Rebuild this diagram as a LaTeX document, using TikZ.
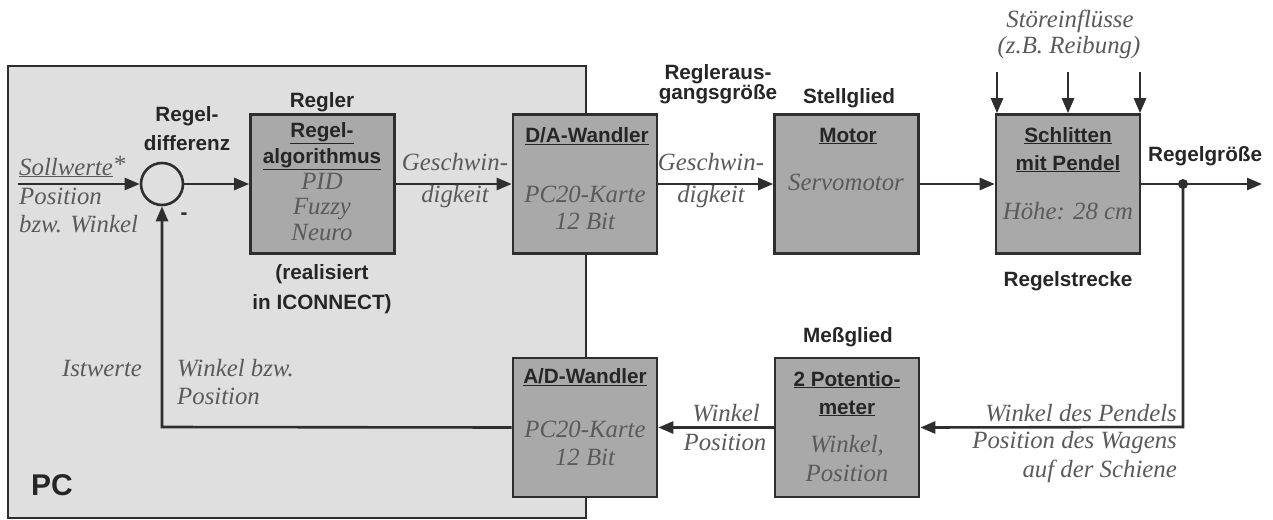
\documentclass[tikz,border=0pt]{standalone}
\usepackage{fontspec}
\setmainfont{Liberation Serif}
\setsansfont{Liberation Sans}
\usetikzlibrary{arrows.meta}
\definecolor{pcgray}{HTML}{DFDFDF}
\definecolor{boxgray}{HTML}{A9A9A9}
\definecolor{edge}{HTML}{2E2E2E}
\definecolor{ital}{HTML}{5A5A5A}
\begin{document}
\begin{tikzpicture}[x=1pt,y=-1pt,
  blk/.style={draw=edge, line width=2.6pt, fill=boxgray, minimum width=144pt, minimum height=139pt, inner sep=0pt},
  sumnode/.style={circle, draw=edge, line width=2.6pt, minimum size=42pt, inner sep=0pt},
  sf/.style={font=\sffamily\bfseries\fontsize{20.7}{22}\selectfont, text=black!85, inner sep=0pt, anchor=base},
  it/.style={font=\itshape\fontsize{24.8}{26}\selectfont, text=ital, inner sep=0pt, anchor=base},
  conn/.style={draw=edge, line width=2.6pt},
  arr/.style={conn, -{Triangle[length=15pt,width=12pt]}},
  dot/.style={circle, fill=edge, minimum size=10pt, inner sep=0pt}
]
\useasboundingbox (0,0) rectangle (1273,519);
% PC area
\node[draw=edge, line width=2.2pt, fill=pcgray, minimum width=578pt, minimum height=452pt, inner sep=0pt, anchor=north west] (pc) at (7,65) {};
\node[sf, font=\sffamily\bfseries\fontsize{30}{32}\selectfont] (pclbl) at (52,495) {PC};

% blocks
\node[sumnode] (sum) at (162,184) {};
\node[blk] (reg) at (322.5,184) {};
\node[blk] (da) at (585,184) {};
\node[blk] (mot) at (846.5,184) {};
\node[blk] (sch) at (1068,184) {};
\node[blk] (ad) at (585,427.5) {};
\node[blk] (mes) at (847,427.5) {};

% coordinates
\coordinate (in) at (18,184);
\coordinate (br) at (1183,184);
\coordinate (out) at (1262,184);
\coordinate (brd) at (1183,427);
\coordinate (fbc) at (162,427);
\coordinate (d1) at (997,72);
\coordinate (d2) at (1068,72);
\coordinate (d3) at (1140,72);

% connectors
\draw[arr] (in) -- (sum.west);
\draw[arr] (sum.east) -- (reg.west);
\draw[arr] (reg.east) -- (da.west);
\draw[arr] (da.east) -- (mot.west);
\draw[arr] (mot.east) -- (sch.west);
\draw[conn] (sch.east) -- (br);
\draw[arr] (br) -- (out);
\draw[arr] (br) -- (brd) -- (mes.east);
\draw[arr] (mes.west) -- (ad.east);
\draw[arr] (ad.west) -- (fbc) -- (sum.south);
\draw[arr] (d1) -- (d1 |- sch.north);
\draw[arr] (d2) -- (d2 |- sch.north);
\draw[arr] (d3) -- (d3 |- sch.north);
\node[dot] (brdot) at (br) {};

% labels: top row
\node[sf] (rdl1) at (187,121) {Regel-};
\node[sf] (rdl2) at (187,150) {differenz};
\node[sf] (minus) at (184,219) {-};
\node[sf] (reglbl) at (322,107) {Regler};
\node[sf] (reg1) at (322,137) {\underline{Regel-}};
\node[sf] (reg2) at (322,163) {\underline{algorithmus}};
\node[it] (reg3) at (322,189) {PID};
\node[it] (reg4) at (322,214) {Fuzzy};
\node[it] (reg5) at (322,240) {Neuro};
\node[sf] (real1) at (322,279) {(realisiert};
\node[sf] (real2) at (322,309) {in ICONNECT)};

\node[it, anchor=base west] (sw1) at (19,175) {\underline{Sollwerte}\raisebox{3pt}{*}};
\node[it, anchor=base west] (sw2) at (19,204) {Position};
\node[it, anchor=base west] (sw3) at (19,232) {bzw. Winkel};

\node[it] (g1a) at (455,170) {Geschwin-};
\node[it] (g1b) at (455,202) {digkeit};
\node[sf] (da1) at (587,142) {\underline{D/A-Wandler}};
\node[it] (da2) at (585,202) {PC20-Karte};
\node[it] (da3) at (585,229) {12 Bit};

\node[sf] (ra1) at (718,79) {Regleraus-};
\node[sf] (ra2) at (718,99) {gangsgröße};
\node[it] (g2a) at (711,170) {Geschwin-};
\node[it] (g2b) at (711,202) {digkeit};

\node[sf] (stl) at (849,103) {Stellglied};
\node[sf] (mo1) at (848,142) {\underline{Motor}};
\node[it] (mo2) at (846,190) {Servomotor};

\node[it] (st1) at (1070,28) {Störeinflüsse};
\node[it] (st2) at (1069,53) {(z.B. Reibung)};
\node[sf] (sc1) at (1068,142) {\underline{Schlitten}};
\node[sf] (sc2) at (1068,170) {\underline{mit Pendel}};
\node[it] (sc3) at (1068,219) {Höhe: 28 cm};
\node[sf] (rst) at (1068,286) {Regelstrecke};
\node[sf, anchor=base west] (rgr) at (1148,161) {Regelgröße};

% bottom row
\node[it] (ist) at (102,376) {Istwerte};
\node[it, anchor=base west] (wb1) at (177,376) {Winkel bzw.};
\node[it, anchor=base west] (wb2) at (177,404) {Position};
\node[sf] (ad1) at (585,383) {\underline{A/D-Wandler}};
\node[it] (ad2) at (585,437) {PC20-Karte};
\node[it] (ad3) at (585,465) {12 Bit};
\node[it] (wp1) at (726,421) {Winkel};
\node[it] (wp2) at (725,450) {Position};
\node[sf] (mgl) at (848,342) {Meßglied};
\node[sf] (me1) at (847,386) {\underline{2 Potentio-}};
\node[sf] (me2) at (847,414) {\underline{meter}};
\node[it] (me3) at (847,452) {Winkel,};
\node[it] (me4) at (847,481) {Position};
\node[it, anchor=base east] (wd1) at (1177,421) {Winkel des Pendels};
\node[it, anchor=base east] (wd2) at (1177,448) {Position des Wagens};
\node[it, anchor=base east] (wd3) at (1177,477) {auf der Schiene};
\end{tikzpicture}
\end{document}
